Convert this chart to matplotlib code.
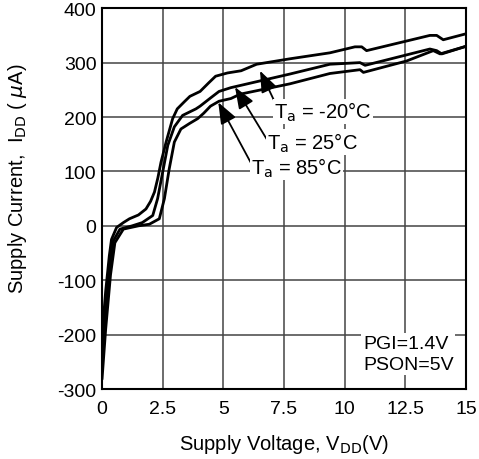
import matplotlib
matplotlib.use("Agg")
import matplotlib.pyplot as plt

plt.rcParams["font.family"] = ["Liberation Sans", "DejaVu Sans"]
plt.rcParams["axes.unicode_minus"] = False

# supply voltage (V) / supply current (uA)
v_m20 = [0.0, 0.15, 0.3, 0.39, 0.6, 0.88, 1.13, 1.5, 1.81, 2.0, 2.16, 2.3,
         2.43, 2.64, 2.91, 3.1, 3.39, 3.62, 4.04, 4.4, 4.68, 5.17, 5.73,
         6.37, 7.74, 9.39, 10.42, 10.7, 10.9, 13.51, 13.79, 14.06, 15.0]
i_m20 = [-202, -120, -55, -25, -3, 6, 13, 20, 31, 45, 62, 88,
         117, 154, 197, 215, 228, 238, 247, 263, 275, 281, 285,
         297, 307, 318, 329, 329, 322, 350, 350, 342, 353]

v_25 = [0.0, 0.15, 0.3, 0.46, 0.74, 1.24, 1.66, 2.09, 2.29, 2.5, 2.71, 2.98,
        3.32, 3.87, 4.04, 4.47, 4.82, 5.31, 7.74, 9.39, 10.63, 10.84,
        13.51, 13.79, 14.0, 15.0]
i_25 = [-250, -160, -80, -28, -6, 0, 6, 19, 50, 99, 148, 182,
        203, 215, 220, 235, 247, 254, 279, 297, 300, 295,
        325, 322, 316, 330]

v_85 = [0.0, 0.15, 0.35, 0.53, 0.88, 1.5, 1.95, 2.36, 2.57, 2.77, 2.98, 3.25,
        3.6, 3.94, 4.19, 4.47, 4.82, 5.31, 5.69, 7.74, 9.39, 10.63, 10.77,
        12.55, 13.65, 13.93, 15.0]
i_85 = [-282, -190, -90, -31, -6, 0, 3, 13, 50, 105, 154, 178,
        188, 197, 207, 220, 229, 234, 242, 261, 280, 287, 282,
        303, 322, 316, 330]

labels = ["-20", "25", "85"]
arrow_tips = [(6.51, 285), (5.48, 255), (4.79, 227)]
text_pos = [(7.1, 210), (6.8, 154), (6.15, 108)]
arrow_rel = [(0.0, 0.95), (0.0, 0.6), (0.0, 0.65)]

fig = plt.figure(figsize=(4.79, 4.60), dpi=100)
ax = fig.add_axes([0.213, 0.152, 0.760, 0.828])

for v, i in [(v_m20, i_m20), (v_25, i_25), (v_85, i_85)]:
    ax.plot(v, i, color="black", lw=2.0, solid_joinstyle="round",
            solid_capstyle="round", zorder=3)

ax.set_xlim(0, 15)
ax.set_ylim(-300, 400)
ax.set_xticks([0, 2.5, 5, 7.5, 10, 12.5, 15])
ax.set_xticklabels(["0", "2.5", "5", "7.5", "10", "12.5", "15"])
ax.set_yticks(range(-300, 401, 100))
ax.grid(True, color="#444444", lw=1.1)
ax.tick_params(length=0, labelsize=14)
ax.tick_params(axis="x", pad=8)
ax.tick_params(axis="y", pad=4)
for sp in ax.spines.values():
    sp.set_linewidth(1.5)

ax.set_xlabel("Supply Voltage, V$_{\\mathrm{DD}}$(V)", fontsize=14.5, labelpad=11)
ax.set_ylabel("Supply Current,  I$_{\\mathrm{DD}}$ ( $\\mu$A)", fontsize=14.5)
ax.yaxis.set_label_coords(-0.2, 0.555)

for lab, tip, pos, rel in zip(labels, arrow_tips, text_pos, arrow_rel):
    ax.annotate("T$_{\\mathrm{a}}$ = " + lab + "°C", xy=tip, xytext=pos,
                fontsize=14.5, ha="left", va="center",
                bbox=dict(boxstyle="square,pad=0.05", fc="white", ec="none"),
                arrowprops=dict(arrowstyle="-|>,head_length=0.9,head_width=0.35",
                                color="black", lw=1.3, shrinkA=0, shrinkB=0,
                                relpos=rel, patchA=None),
                zorder=5)

ax.text(10.75, -235, "PGI=1.4V\nPSON=5V", fontsize=14, ha="left", va="center",
        linespacing=1.3,
        bbox=dict(boxstyle="square,pad=0.1", fc="white", ec="none"), zorder=5)

fig.savefig("out.png", dpi=100)
